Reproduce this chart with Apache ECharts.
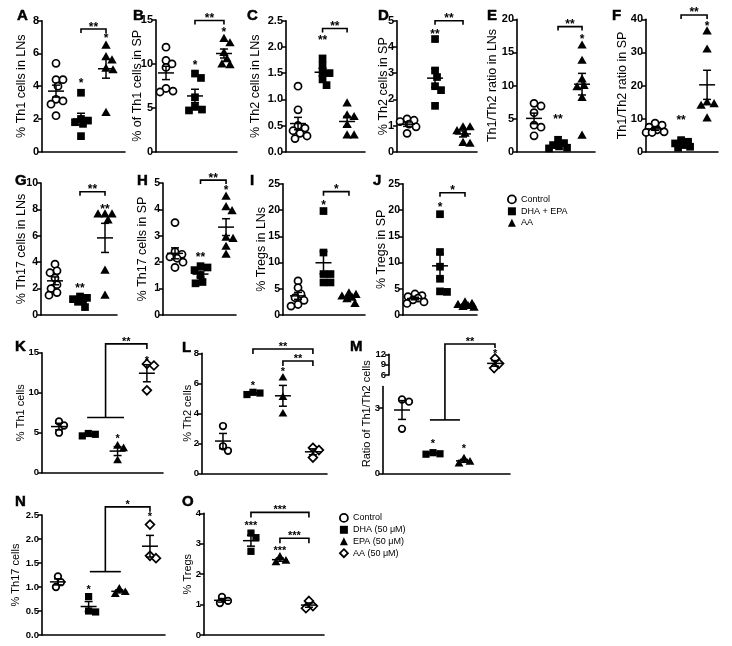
<!DOCTYPE html>
<html><head><meta charset="utf-8">
<script src="https://cdn.jsdelivr.net/npm/echarts@6/dist/echarts.min.js"></script>
<style>html,body{margin:0;padding:0;background:#fff}#c{width:732px;height:646px}</style>
</head><body><div id="c"></div>
<script>
// ---------------- DATA ----------------
const groups3 = ['Control', 'DHA + EPA', 'AA'];
const groups4 = ['Control', 'DHA (50 μM)', 'EPA (50 μM)', 'AA (50 μM)'];

// A  % Th1 cells in LNs
const th1LN_ctrl = [5.4, 4.4, 4.4, 4.0, 3.2, 3.1, 2.9, 2.2];
const th1LN_dha  = [3.6, 2.0, 1.9, 1.8, 1.7, 0.95];
const th1LN_aa   = [6.5, 5.8, 5.6, 5.1, 5.0, 2.4];
const th1LN_stars = [[2, 4.34, '*'], [3, 7.04, '*']];
const th1LN_brackets = [[2, 3, 7.49, '**']];
// B  % of Th1 cells in SP
const th1SP_ctrl = [11.9, 10.4, 10.0, 9.6, 7.2, 6.9, 6.8];
const th1SP_dha  = [8.9, 8.4, 6.2, 5.1, 4.8, 4.7];
const th1SP_aa   = [12.9, 12.4, 11.3, 10.6, 10.0, 9.9];
const th1SP_stars = [[2, 10.08, '*'], [3, 13.8, '*']];
const th1SP_brackets = [[2, 3, 14.95, '**']];
// C  % Th2 cells in LNs
const th2LN_ctrl = [1.25, 0.8, 0.5, 0.45, 0.4, 0.35, 0.3, 0.25];
const th2LN_dha  = [1.78, 1.65, 1.52, 1.5, 1.38, 1.27];
const th2LN_aa   = [0.93, 0.7, 0.67, 0.52, 0.32, 0.32];
const th2LN_stars = [[2, 2.16, '**']];
const th2LN_brackets = [[2, 3, 2.35, '**']];
// D  % Th2 cells in SP
const th2SP_ctrl = [1.25, 1.2, 1.15, 1.05, 0.95, 0.7];
const th2SP_dha  = [4.3, 3.1, 2.85, 2.5, 2.35, 1.75];
const th2SP_aa   = [0.95, 0.95, 0.8, 0.7, 0.35, 0.32];
const th2SP_stars = [[2, 4.58, '**']];
const th2SP_brackets = [[2, 3, 5.0, '**']];
// E  Th1/Th2 ratio in LNs
const ratioLN_ctrl = [7.3, 6.9, 5.9, 4.0, 3.7, 2.4];
const ratioLN_dha  = [1.8, 1.3, 1.0, 0.8, 0.6, 0.5];
const ratioLN_aa   = [16.1, 13.8, 11.0, 10.0, 9.8, 8.2, 2.5];
const ratioLN_stars = [[2, 5.29, '**'], [3, 17.3, '*']];
const ratioLN_brackets = [[2, 3, 18.9, '**']];
// F  Th1/Th2 ratio in SP
const ratioSP_ctrl = [8.6, 8.0, 7.4, 6.6, 6.0, 5.8, 5.8];
const ratioSP_dha  = [3.5, 3.0, 2.5, 2.0, 1.5, 1.2];
const ratioSP_aa   = [36.5, 31.0, 15.0, 14.5, 14.0, 10.2];
const ratioSP_stars = [[2, 10.1, '**'], [3, 38.6, '*']];
const ratioSP_brackets = [[2, 3, 41.3, '**']];
// G  % Th17 cells in LNs
const th17LN_ctrl = [3.85, 3.35, 3.2, 2.8, 2.3, 2.0, 1.7, 1.5];
const th17LN_dha  = [1.4, 1.3, 1.2, 1.1, 1.0, 0.6];
const th17LN_aa   = [7.65, 7.65, 7.65, 7.2, 3.4, 1.5];
const th17LN_stars = [[2, 2.22, '**'], [3, 8.15, '**']];
const th17LN_brackets = [[2, 3, 9.34, '**']];
// H  % Th17 cells in SP
const th17SP_ctrl = [3.5, 2.4, 2.3, 2.2, 2.15, 2.0, 1.8];
const th17SP_dha  = [1.85, 1.8, 1.7, 1.5, 1.25, 1.2];
const th17SP_aa   = [4.5, 4.1, 3.95, 2.95, 2.9, 2.6, 2.3];
const th17SP_stars = [[2, 2.27, '**'], [3, 4.8, '*']];
const th17SP_brackets = [[2, 3, 5.11, '**']];
// I  % Tregs in LNs
const tregLN_ctrl = [6.5, 5.2, 4.0, 3.3, 2.8, 2.0, 1.7];
const tregLN_dha  = [19.8, 11.9, 7.8, 7.8, 6.2, 6.2];
const tregLN_aa   = [4.2, 3.9, 3.6, 3.4, 3.1, 2.2];
const tregLN_stars = [[2, 21.3, '*']];
const tregLN_brackets = [[2, 3, 23.5, '*']];
// J  % Tregs in SP
const tregSP_ctrl = [4.0, 3.7, 3.5, 3.2, 2.9, 2.5, 2.2];
const tregSP_dha  = [19.2, 12.0, 9.2, 6.9, 4.5, 4.4];
const tregSP_aa   = [2.5, 2.2, 2.0, 1.8, 1.6, 1.5];
const tregSP_stars = [[2, 21.0, '*']];
const tregSP_brackets = [[2, 3, 23.3, '*']];
// K  % Th1 cells (in vitro)
const vTh1_ctrl = [6.4, 5.9, 5.0];
const vTh1_dha  = [4.9, 4.6, 4.8];
const vTh1_epa  = [3.4, 3.1, 1.6];
const vTh1_aa   = [13.6, 13.4, 10.3];
const vTh1_stars = [[3, 4.5, '*'], [4, 14.3, '*']];
const vTh1_groupBracket = [[1.96, 3.22, 6.9, 16.1, 4, '**']];
// L  % Th2 cells
const vTh2_ctrl = [3.15, 1.8, 1.5];
const vTh2_dha  = [5.4, 5.25, 5.35];
const vTh2_epa  = [6.4, 5.1, 4.0];
const vTh2_aa   = [1.7, 1.55, 1.05];
const vTh2_stars = [[2, 6.0, '*'], [3, 6.9, '*']];
const vTh2_brackets = [[2, 4, 8.29, '**'], [3, 4, 7.49, '**']];
// M  Ratio of Th1/Th2 cells (broken axis)
const vRatio_ctrl = [3.4, 3.3, 2.05];
const vRatio_dha  = [0.95, 0.9, 0.88];
const vRatio_epa  = [0.7, 0.55, 0.47];
const vRatio_aa   = [10.8, 9.3, 8.0];
const vRatio_starsLow = [[2, 1.46, '*'], [3, 1.23, '*']];
const vRatio_starsUp  = [[4, 12.9, '*']];
const vRatio_groupBracket = [[1.9, 2.87, 2.46, 5.96, 4, '**']];
// N  % Th17 cells
const vTh17_ctrl = [1.22, 1.1, 1.0];
const vTh17_dha  = [0.8, 0.5, 0.48];
const vTh17_epa  = [0.97, 0.9, 0.86];
const vTh17_aa   = [2.3, 1.65, 1.6];
const vTh17_stars = [[2, 0.99, '*'], [4, 2.5, '*']];
const vTh17_groupBracket = [[2.04, 3.05, 1.32, 2.67, 4, '*']];
// O  % Tregs
const vTreg_ctrl = [1.25, 1.12, 1.05];
const vTreg_dha  = [3.35, 3.2, 2.75];
const vTreg_epa  = [2.58, 2.45, 2.4];
const vTreg_aa   = [1.12, 0.95, 0.88];
const vTreg_stars = [[2, 3.67, '***'], [3, 2.85, '***']];
const vTreg_brackets = [[2, 4, 4.03, '***'], [3, 4, 3.18, '***']];

// ---------------- LAYOUT / STYLE ----------------
const FONT = '"Liberation Sans", Arial, Helvetica, sans-serif';
const KINDS = ['circle', 'square', 'triangle', 'diamond'];
const KINDS3 = ['circle', 'square', 'triangle'];

const panels = [
 {L:'A', sets:[th1LN_ctrl, th1LN_dha, th1LN_aa], names:groups3, title:'% Th1 cells in LNs', ymax:8, step:2, xr:[0.44,3.76], g:[42,20.7,83,131], gap:14, stars:th1LN_stars, br:th1LN_brackets, pos:[17,10], row:1},
 {L:'B', sets:[th1SP_ctrl, th1SP_dha, th1SP_aa], names:groups3, title:'% of Th1 cells in SP', ymax:15, step:5, xr:[0.655,3.45], g:[156,20,81,131.7], gap:12, stars:th1SP_stars, br:th1SP_brackets, pos:[133,10], row:1},
 {L:'C', sets:[th2LN_ctrl, th2LN_dha, th2LN_aa], names:groups3, title:'% Th2 cells in LNs', ymax:2.5, step:0.5, dec:1, xr:[0.51,3.73], g:[286,20.7,79,131], gap:24, stars:th2LN_stars, br:th2LN_brackets, pos:[247,10], row:1},
 {L:'D', sets:[th2SP_ctrl, th2SP_dha, th2SP_aa], names:groups3, title:'% Th2 cells in SP', ymax:5, step:1, xr:[0.64,3.5], g:[397,20.7,80,131], gap:7, stars:th2SP_stars, br:th2SP_brackets, pos:[378,10], row:1},
 {L:'E', sets:[ratioLN_ctrl, ratioLN_dha, ratioLN_aa], names:groups3, title:'Th1/Th2 ratio in LNs', ymax:20, step:5, xr:[0.29,3.54], g:[517,19.3,78,132.4], gap:18, stars:ratioLN_stars, br:ratioLN_brackets, pos:[487,10], row:1},
 {L:'F', sets:[ratioSP_ctrl, ratioSP_dha, ratioSP_aa], names:groups3, title:'Th1/Th2 ratio in SP', ymax:40, step:10, xr:[0.65,3.42], g:[646,19.3,72,132.4], gap:17, stars:ratioSP_stars, br:ratioSP_brackets, pos:[612,10], row:1},
 {L:'G', sets:[th17LN_ctrl, th17LN_dha, th17LN_aa], names:groups3, title:'% Th17 cells in LNs', ymax:10, step:2, xr:[0.44,3.48], g:[41,183,76,132], gap:13, stars:th17LN_stars, br:th17LN_brackets, pos:[15,175], row:2},
 {L:'H', sets:[th17SP_ctrl, th17SP_dha, th17SP_aa], names:groups3, title:'% Th17 cells in SP', ymax:5, step:1, xr:[0.53,3.39], g:[163,183,73,132], gap:14, stars:th17SP_stars, br:th17SP_brackets, pos:[137,175], row:2},
 {L:'I', sets:[tregLN_ctrl, tregLN_dha, tregLN_aa], names:groups3, title:'% Tregs in LNs', ymax:25, step:5, xr:[0.41,3.63], g:[283,183.75,82,131.25], gap:15, stars:tregLN_stars, br:tregLN_brackets, pos:[250,175], row:2},
 {L:'J', sets:[tregSP_ctrl, tregSP_dha, tregSP_aa], names:groups3, title:'% Tregs in SP', ymax:25, step:5, xr:[0.52,3.48], g:[403,183.75,74,131.25], gap:15, stars:tregSP_stars, br:tregSP_brackets, pos:[373,175], row:2},
 {L:'K', sets:[vTh1_ctrl, vTh1_dha, vTh1_epa, vTh1_aa], names:groups4, title:'% Th1 cells', ymax:15, step:5, xr:[0.42,4.55], g:[42,352.7,121,120], gap:16, stars:vTh1_stars, gbr:vTh1_groupBracket, pos:[15,341], row:3},
 {L:'L', sets:[vTh2_ctrl, vTh2_dha, vTh2_epa, vTh2_aa], names:groups4, title:'% Th2 cells', ymax:8, step:2, xr:[0.3,4.47], g:[202,353.3,125,120], gap:9, stars:vTh2_stars, br:vTh2_brackets, pos:[182,342], row:3},
 {L:'N', sets:[vTh17_ctrl, vTh17_dha, vTh17_epa, vTh17_aa], names:groups4, title:'% Th17 cells', ymax:2.5, step:0.5, dec:1, xr:[0.48,4.49], g:[42,515,123,120], gap:21, stars:vTh17_stars, gbr:vTh17_groupBracket, pos:[15,496], row:4},
 {L:'O', sets:[vTreg_ctrl, vTreg_dha, vTreg_epa, vTreg_aa], names:groups4, title:'% Tregs', ymax:4, step:1, xr:[0.38,4.52], g:[204,513.3,120,121.7], gap:11, stars:vTreg_stars, br:vTreg_brackets, pos:[182,496], row:4}
];

// ---------------- HELPERS ----------------
function mean(a){ return a.reduce((s,v)=>s+v,0)/a.length; }
function sem(a){ const m=mean(a); const sd=Math.sqrt(a.reduce((s,v)=>s+(v-m)*(v-m),0)/(a.length-1)); return sd/Math.sqrt(a.length); }

// compact beeswarm: points may overlap a little, horizontal spread capped
function swarm(pys, d){
  const order = pys.map((p,i)=>i).sort((a,b)=>pys[a]-pys[b]);
  const placed = []; const dx = new Array(pys.length).fill(0);
  const dmin = d*0.8, cap = 9;
  order.forEach(i=>{
    let best = 0, bestScore = -1;
    for(let k=0;k<=cap;k++){
      const cands = k===0 ? [0] : [k, -k];
      let found=false;
      for(const c of cands){
        let md = Infinity;
        for(const p of placed){ const ex=c-p.x, ey=pys[i]-p.y; md=Math.min(md, Math.sqrt(ex*ex+ey*ey)); }
        if(md>=dmin){ best=c; found=true; break; }
        if(md>bestScore){ bestScore=md; best=c; }
      }
      if(found) break;
    }
    dx[i]=best; placed.push({x:best, y:pys[i]});
  });
  return dx;
}

function shapeEl(kind, cx, cy, s){
  const lw = 1.7;
  if(kind==='circle') return {type:'circle', shape:{cx:cx, cy:cy, r:s/2-0.7}, style:{fill:'#fff', stroke:'#000', lineWidth:lw}};
  if(kind==='square') return {type:'rect', shape:{x:cx-s/2+0.4, y:cy-s/2+0.4, width:s-0.8, height:s-0.8}, style:{fill:'#000'}};
  if(kind==='triangle'){ const h=s*0.55; return {type:'polygon', shape:{points:[[cx,cy-h],[cx-h,cy+h*0.75],[cx+h,cy+h*0.75]]}, style:{fill:'#000'}}; }
  const h=s*0.55; return {type:'polygon', shape:{points:[[cx,cy-h],[cx+h,cy],[cx,cy+h],[cx-h,cy]]}, style:{fill:'#fff', stroke:'#000', lineWidth:lw}};
}

function textEl(x, y, t, size){
  return {type:'text', style:{text:t, x:x, y:y+0.22*size, align:'center', verticalAlign:'middle', font:'bold '+size+'px '+FONT, fill:'#000'}};
}

function pointSeries(vals, gi, ai, name, kind, size){
  return {type:'custom', name:name, xAxisIndex:ai, yAxisIndex:ai, z:2, clip:false, silent:true,
    data: vals.map(v=>[gi, v]), encode:{x:0, y:1},
    renderItem:function(params, api){
      const x = api.value(0);
      const pts = vals.map(v=>api.coord([x, v]));
      const dx = swarm(pts.map(p=>p[1]), size);
      const i = params.dataIndex;
      return shapeEl(kind, pts[i][0]+dx[i], pts[i][1], size);
    }};
}

function errSeries(list, ai){ // list of [groupPos, values]
  return {type:'custom', xAxisIndex:ai, yAxisIndex:ai, z:4, clip:false, silent:true,
    data: list.map(g=>[g[0], mean(g[1]), sem(g[1])]), encode:{x:0, y:1},
    renderItem:function(params, api){
      const x=api.value(0), m=api.value(1), e=api.value(2);
      const pm=api.coord([x,m]), pt=api.coord([x,m+e]), pb=api.coord([x,m-e]);
      const st={stroke:'#000', lineWidth:1.5};
      return {type:'group', children:[
        {type:'line', shape:{x1:pm[0]-8, y1:pm[1], x2:pm[0]+8, y2:pm[1]}, style:st},
        {type:'line', shape:{x1:pt[0], y1:pt[1], x2:pb[0], y2:pb[1]}, style:st},
        {type:'line', shape:{x1:pt[0]-4, y1:pt[1], x2:pt[0]+4, y2:pt[1]}, style:st},
        {type:'line', shape:{x1:pb[0]-4, y1:pb[1], x2:pb[0]+4, y2:pb[1]}, style:st}
      ]};
    }};
}

function starSeries(list, ai, fs){
  return {type:'custom', xAxisIndex:ai, yAxisIndex:ai, z:5, clip:false, silent:true,
    data: list.map(s=>[s[0], s[1]]), encode:{x:0, y:1},
    renderItem:function(params, api){
      const p = api.coord([api.value(0), api.value(1)]);
      return textEl(p[0], p[1], list[params.dataIndex][2], fs);
    }};
}

function bracketSeries(list, ai, tick, fs){
  return {type:'custom', xAxisIndex:ai, yAxisIndex:ai, z:5, clip:false, silent:true,
    data: list.map(b=>[b[0], b[2], b[1]]), encode:{x:0, y:1},
    renderItem:function(params, api){
      const p1=api.coord([api.value(0), api.value(1)]), p2=api.coord([api.value(2), api.value(1)]);
      return {type:'group', children:[
        {type:'polyline', shape:{points:[[p1[0],p1[1]+tick],[p1[0],p1[1]],[p2[0],p2[1]],[p2[0],p2[1]+tick]]}, style:{stroke:'#000', lineWidth:1.6, fill:null}},
        textEl((p1[0]+p2[0])/2, p1[1]-4.5, list[params.dataIndex][3], fs)
      ]};
    }};
}

function groupBracketSeries(list, ai, tick, fs){
  return {type:'custom', xAxisIndex:ai, yAxisIndex:ai, z:5, clip:false, silent:true,
    data: list.map(b=>[b[0], b[2], b[1], b[3], b[4]]), encode:{x:0, y:1},
    renderItem:function(params, api){
      const a=api.coord([api.value(0), api.value(1)]), b=api.coord([api.value(2), api.value(1)]);
      const t=api.coord([api.value(4), api.value(3)]);
      const mx=(a[0]+b[0])/2;
      const st={stroke:'#000', lineWidth:1.6, fill:null};
      return {type:'group', children:[
        {type:'line', shape:{x1:a[0], y1:a[1], x2:b[0], y2:b[1]}, style:st},
        {type:'polyline', shape:{points:[[mx,a[1]],[mx,t[1]],[t[0],t[1]],[t[0],t[1]+tick]]}, style:st},
        textEl((mx+t[0])/2, t[1]-4.5, list[params.dataIndex][5], fs)
      ]};
    }};
}

const grids=[], xAxes=[], yAxes=[], series=[], graphics=[];

function addGrid(g){
  grids.push({left:g[0], top:g[1], width:g[2], height:g[3], containLabel:false, outerBoundsMode:'none'});
  return grids.length-1;
}
function xAxisDef(ai, xr, show){
  return {gridIndex:ai, type:'value', min:xr[0], max:xr[1], show:show,
    axisLine:{show:true, onZero:false, lineStyle:{color:'#000', width:1.6}},
    axisTick:{show:false}, axisLabel:{show:false}, splitLine:{show:false}};
}
function yAxisDef(ai, o){
  const tickFs = o.row===1 ? 11 : (o.row===2 ? 10.5 : 9.5);
  const nameFs = o.row<=2 ? 12.5 : 11;
  const ax = {gridIndex:ai, type:'value', min:o.min||0, max:o.max, interval:o.step,
    axisLine:{show:true, onZero:false, lineStyle:{color:'#000', width:1.6}},
    axisTick:{show:true, length:4, lineStyle:{color:'#000', width:1.5}},
    axisLabel:{color:'#000', fontSize:tickFs, fontWeight:'bold', fontFamily:FONT, margin:3,
      formatter: o.dec ? (v=>Number(v).toFixed(o.dec)) : (v=>String(v))},
    splitLine:{show:false}, nameMoveOverlap:false};
  if(o.title){
    Object.assign(ax, {name:o.title, nameLocation:'middle', nameGap:o.gap, nameRotate:90,
      nameTextStyle:{color:'#000', fontSize:nameFs, fontFamily:FONT}});
  }
  if(o.custom){ ax.axisLabel.customValues=o.custom; ax.axisTick.customValues=o.custom; }
  return ax;
}
function letter(t, pos){
  graphics.push({type:'text', x:pos[0], y:pos[1]-2, z:10, style:{text:t, font:'bold 15px '+FONT, fill:'#000', stroke:'#000', lineWidth:0.5, verticalAlign:'top', align:'left'}});
}

panels.forEach(p=>{
  const ai = addGrid(p.g);
  xAxes.push(xAxisDef(ai, p.xr, true));
  yAxes.push(yAxisDef(ai, {max:p.ymax, step:p.step, dec:p.dec, title:p.title, gap:p.gap, row:p.row}));
  const size = p.row<=2 ? 8.5 : 8;
  const kinds = p.sets.length===3 ? KINDS3 : KINDS;
  p.sets.forEach((vals, gi)=>{ series.push(pointSeries(vals, gi+1, ai, p.names[gi], kinds[gi], size)); });
  series.push(errSeries(p.sets.map((v,gi)=>[gi+1, v]), ai));
  const fs = p.row<=2 ? 12 : 11;
  if(p.stars) series.push(starSeries(p.stars, ai, fs));
  if(p.br) series.push(bracketSeries(p.br, ai, p.row<=2 ? 4 : 5, fs));
  if(p.gbr) series.push(groupBracketSeries(p.gbr, ai, 5, fs));
  letter(p.L, p.pos);
});

// Panel M: broken y axis (lower 0-4, upper 6-12) plus a name-only axis
(function(){
  const lo = addGrid([383, 386.5, 127, 86.8]);
  xAxes.push(xAxisDef(lo, [0.387, 4.484], true));
  yAxes.push(yAxisDef(lo, {max:4, step:1, row:3, custom:[0,3]}));
  const up = addGrid([389, 354.3, 121, 20.7]);
  xAxes.push(xAxisDef(up, [0.58, 4.48], false));
  yAxes.push(yAxisDef(up, {min:6, max:12, step:3, row:3}));
  const nm = addGrid([383, 354.3, 127, 119]);
  xAxes.push({gridIndex:nm, type:'value', min:0, max:1, show:false});
  yAxes.push({gridIndex:nm, type:'value', min:0, max:1, axisLine:{show:false}, axisTick:{show:false}, axisLabel:{show:false}, splitLine:{show:false},
    name:'Ratio of Th1/Th2 cells', nameLocation:'middle', nameGap:11, nameRotate:90, nameMoveOverlap:false,
    nameTextStyle:{color:'#000', fontSize:11, fontFamily:FONT}});
  series.push(pointSeries(vRatio_ctrl, 1, lo, groups4[0], 'circle', 8));
  series.push(pointSeries(vRatio_dha, 2, lo, groups4[1], 'square', 8));
  series.push(pointSeries(vRatio_epa, 3, lo, groups4[2], 'triangle', 8));
  series.push(pointSeries(vRatio_aa, 4, up, groups4[3], 'diamond', 8));
  series.push(errSeries([[1, vRatio_ctrl], [2, vRatio_dha], [3, vRatio_epa]], lo));
  series.push(errSeries([[4, vRatio_aa]], up));
  series.push(starSeries(vRatio_starsLow, lo, 11));
  series.push(starSeries(vRatio_starsUp, up, 11));
  series.push(groupBracketSeries(vRatio_groupBracket, lo, 4, 11));
  letter('M', [350, 341]);
})();

const legendText = {fontSize:9, fontFamily:FONT, color:'#000', lineHeight:9};
const ring = {color:'#fff', borderColor:'#000', borderWidth:1.8};
const solid = {color:'#000', borderWidth:0};

const option = {
  animation:false,
  backgroundColor:'#fff',
  textStyle:{fontFamily:FONT},
  grid:grids, xAxis:xAxes, yAxis:yAxes, series:series,
  graphic:graphics,
  legend:[
    {left:507, top:194.5, orient:'vertical', padding:0, itemGap:2.5, itemWidth:8, itemHeight:8, selectedMode:false, textStyle:legendText,
     data:[{name:groups3[0], icon:'circle', itemStyle:ring}, {name:groups3[1], icon:'rect', itemStyle:solid}, {name:groups3[2], icon:'triangle', itemStyle:solid}]},
    {left:339, top:513, orient:'vertical', padding:0, itemGap:2.5, itemWidth:8, itemHeight:8, selectedMode:false, textStyle:legendText,
     data:[{name:groups4[0], icon:'circle', itemStyle:ring}, {name:groups4[1], icon:'rect', itemStyle:solid}, {name:groups4[2], icon:'triangle', itemStyle:solid}, {name:groups4[3], icon:'diamond', itemStyle:ring}]}
  ]
};

const chart = echarts.init(document.getElementById('c'), null, {renderer:'canvas'});
chart.setOption(option);
</script></body></html>
